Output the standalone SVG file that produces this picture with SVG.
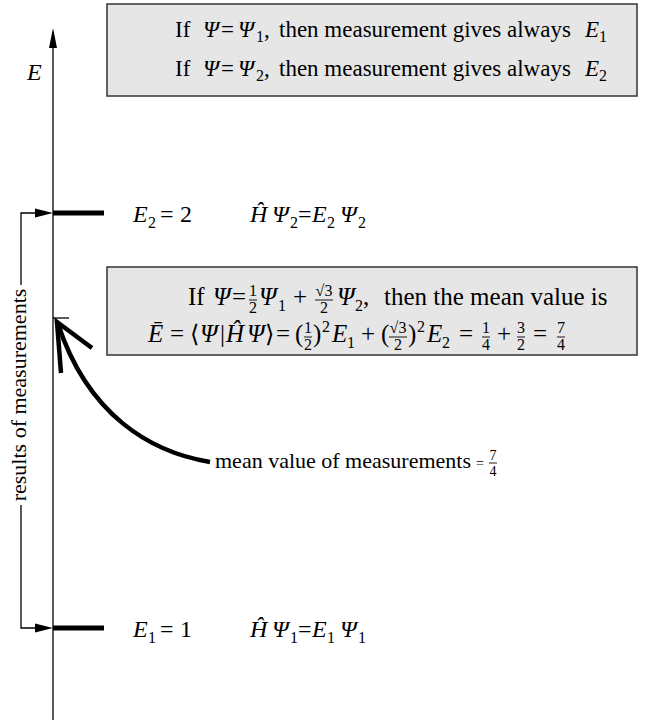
<svg xmlns="http://www.w3.org/2000/svg" width="653" height="722" viewBox="0 0 653 722">
<style>
text{font-family:"Liberation Serif","DejaVu Serif","Times New Roman",serif;font-size:22px;fill:#000}
.i{font-style:italic}
.t{font-size:23px}
.m{font-size:25px}
.l{font-size:24px}
.s{font-size:16px}
.f{font-size:16px;text-anchor:middle}
.box{fill:#e6e6e6;stroke:#333;stroke-width:1.5}
.ln{stroke:#000;stroke-width:1.3;fill:none}
.bar{stroke:#000;stroke-width:5}
.fb{stroke:#000;stroke-width:0.9}
.ang{font-family:"DejaVu Serif",serif;font-size:24px}
</style>
<g id="connectors">
<line class="ln" x1="53" y1="46" x2="53" y2="720"/>
<polygon points="53,28 49,48 57,48"/>
<polyline class="ln" points="21,285 21,213 37,213"/>
<polygon points="53,213 35,208.5 35,217.5"/>
<polyline class="ln" points="21,505 21,628 37,628"/>
<polygon points="53,628 35,623.5 35,632.5"/>
<line class="ln" x1="53" y1="318" x2="69" y2="318"/>
<path d="M210 462 C150 452 88 415 58 324" stroke="#000" stroke-width="4.5" fill="none"/>
<polyline points="61,373 57,322 92,348" stroke="#000" stroke-width="4.5" fill="none" stroke-linejoin="miter" stroke-miterlimit="10"/>
</g>
<g id="axis-label"><text class="i l" x="27" y="80">E</text></g>
<g id="bracket-label"><text transform="translate(26,395) rotate(-90)" text-anchor="middle">results of measurements</text></g>
<g id="level-E2">
<line class="bar" x1="53" y1="213" x2="104" y2="213"/>
<text class="i l" x="133" y="222">E</text><text class="s" x="148" y="228">2</text>
<text class="l" x="160" y="222">=</text><text class="l" x="180" y="222">2</text>
<text class="i l" x="250" y="222">Ĥ</text>
<text class="i l" x="272" y="222">Ψ</text><text class="s" x="290" y="228">2</text>
<text class="l" x="298" y="222">=</text>
<text class="i l" x="312" y="222">E</text><text class="s" x="327" y="228">2</text>
<text class="i l" x="340" y="222">Ψ</text><text class="s" x="358" y="228">2</text>
</g>
<g id="level-E1">
<line class="bar" x1="53" y1="628" x2="104" y2="628"/>
<text class="i l" x="133" y="637">E</text><text class="s" x="148" y="643">1</text>
<text class="l" x="160" y="637">=</text><text class="l" x="180" y="637">1</text>
<text class="i l" x="250" y="637">Ĥ</text>
<text class="i l" x="272" y="637">Ψ</text><text class="s" x="290" y="643">1</text>
<text class="l" x="298" y="637">=</text>
<text class="i l" x="312" y="637">E</text><text class="s" x="327" y="643">1</text>
<text class="i l" x="340" y="637">Ψ</text><text class="s" x="358" y="643">1</text>
</g>
<g id="box-eigen">
<rect class="box" x="107" y="4" width="530" height="92"/>
<text class="t" x="175" y="37">If</text>
<text class="t i" x="203" y="37">Ψ</text>
<text class="t" x="221" y="37">=</text>
<text class="t i" x="238" y="37">Ψ</text><text class="s" x="256" y="42">1</text><text class="t" x="264" y="37">,</text>
<text class="t" x="279" y="37">then measurement gives always</text>
<text class="t i" x="585" y="37">E</text><text class="s" x="599" y="42">1</text>
<text class="t" x="175" y="76">If</text>
<text class="t i" x="203" y="76">Ψ</text>
<text class="t" x="221" y="76">=</text>
<text class="t i" x="238" y="76">Ψ</text><text class="s" x="256" y="81">2</text><text class="t" x="264" y="76">,</text>
<text class="t" x="279" y="76">then measurement gives always</text>
<text class="t i" x="585" y="76">E</text><text class="s" x="599" y="81">2</text>
</g>
<g id="box-mean">
<rect class="box" x="107" y="267" width="530" height="88"/>
<text class="m" x="188" y="305">If</text>
<text class="m i" x="213" y="305">Ψ</text>
<text class="m" x="232" y="305">=</text>
<text class="f" x="253" y="296">1</text><line class="fb" x1="249" y1="300" x2="257" y2="300"/><text class="f" x="253" y="313">2</text>
<text class="m i" x="259" y="305">Ψ</text><text class="s" x="278" y="311">1</text>
<text class="m" x="293" y="305">+</text>
<text class="f" x="324" y="296">√3</text><line class="fb" x1="315" y1="300" x2="333" y2="300"/><text class="f" x="324" y="313">2</text>
<text class="m i" x="337" y="305">Ψ</text><text class="s" x="355" y="311">2</text><text class="m" x="363" y="305">,</text>
<text class="m" x="384" y="305">then the mean value is</text>
<text class="m i" x="148" y="342">Ē</text>
<text class="m" x="170" y="342">=</text>
<text class="ang" x="190" y="342">⟨</text>
<text class="m i" x="200" y="342">Ψ</text>
<text class="m" x="220" y="342">|</text>
<text class="m i" x="226" y="342">Ĥ</text>
<text class="m i" x="247" y="342">Ψ</text>
<text class="ang" x="265" y="342">⟩</text>
<text class="m" x="276" y="342">=</text>
<text class="m" x="295" y="342">(</text>
<text class="f" x="308" y="333">1</text><line class="fb" x1="304" y1="337" x2="312" y2="337"/><text class="f" x="308" y="350">2</text>
<text class="m" x="313" y="342">)</text><text class="s" x="322" y="332">2</text>
<text class="m i" x="332" y="342">E</text><text class="s" x="347" y="348">1</text>
<text class="m" x="361" y="342">+</text>
<text class="m" x="381" y="342">(</text>
<text class="f" x="398" y="333">√3</text><line class="fb" x1="389" y1="337" x2="407" y2="337"/><text class="f" x="398" y="350">2</text>
<text class="m" x="408" y="342">)</text><text class="s" x="417" y="332">2</text>
<text class="m i" x="427" y="342">E</text><text class="s" x="442" y="348">2</text>
<text class="m" x="459" y="342">=</text>
<text class="f" x="486" y="333">1</text><line class="fb" x1="482" y1="337" x2="490" y2="337"/><text class="f" x="486" y="350">4</text>
<text class="m" x="497" y="342">+</text>
<text class="f" x="521" y="333">3</text><line class="fb" x1="517" y1="337" x2="525" y2="337"/><text class="f" x="521" y="350">2</text>
<text class="m" x="533" y="342">=</text>
<text class="f" x="561" y="333">7</text><line class="fb" x1="557" y1="337" x2="565" y2="337"/><text class="f" x="561" y="350">4</text>
</g>
<g id="mean-label">
<text x="215" y="468">mean value of measurements</text>
<text x="476" y="468" style="font-size:14px">=</text>
<text class="f" x="493" y="460" style="font-size:14px">7</text><line class="fb" x1="489" y1="463" x2="497" y2="463"/><text class="f" x="493" y="476" style="font-size:14px">4</text>
</g>
</svg>
